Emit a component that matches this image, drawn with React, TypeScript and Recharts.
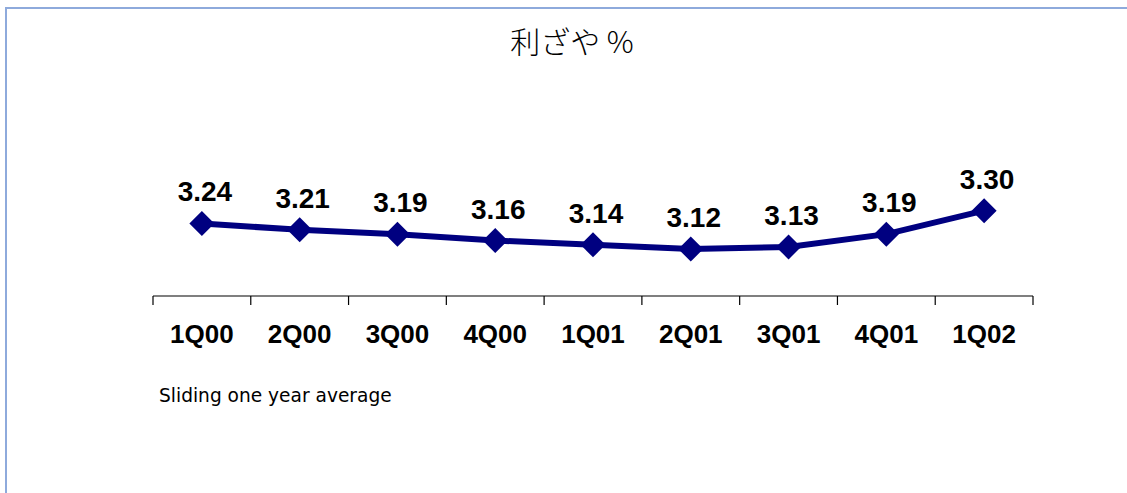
import { LineChart, Line, XAxis, YAxis } from "recharts";

const categories = ["1Q00", "2Q00", "3Q00", "4Q00", "1Q01", "2Q01", "3Q01", "4Q01", "1Q02"];
const margins = [3.24, 3.21, 3.19, 3.16, 3.14, 3.12, 3.13, 3.19, 3.3];
const boundaryTicks = [0, 1, 2, 3, 4, 5, 6, 7, 8, 9];

const NAVY = "#000080";
const BOLD_FONT = "'Liberation Sans', Arial, sans-serif";

const data = categories.map((name, i) => ({ name, pos: i + 0.5, value: margins[i] }));
const axisTicks = [...boundaryTicks, ...categories.map((_, i) => i + 0.5)].sort((a, b) => a - b);

function Diamond(props: any) {
  const { cx, cy } = props;
  if (cx == null || cy == null) return null;
  const r = 12.5;
  return (
    <path
      d={`M${cx},${cy - r}L${cx + r},${cy}L${cx},${cy + r}L${cx - r},${cy}Z`}
      fill={NAVY}
      stroke="none"
    />
  );
}

function AxisTick(props: any) {
  const { x, y, payload } = props;
  const v = payload.value as number;
  if (Number.isInteger(v)) {
    return <line x1={x} y1={y} x2={x} y2={y + 9} stroke="#000" strokeWidth={1.2} />;
  }
  const label = categories[Math.floor(v)];
  return (
    <text x={x} y={y + 47} textAnchor="middle" fontFamily={BOLD_FONT} fontWeight="bold" fontSize={26} fill="#000">
      {label}
    </text>
  );
}

function ValueLabel(props: any) {
  const { x, y, value } = props;
  return (
    <text x={x + 3} y={y - 22} textAnchor="middle" fontFamily={BOLD_FONT} fontWeight="bold" fontSize={28} fill="#000">
      {Number(value).toFixed(2)}
    </text>
  );
}

export default function App() {
  return (
    <div style={{ position: "fixed", left: 0, top: 0, width: 1127, height: 493, background: "#fff" }}>
      <div
        style={{
          position: "absolute",
          left: 5,
          top: 7,
          width: 1122,
          height: 486,
          borderTop: "2px solid #8eaadc",
          borderLeft: "2px solid #8eaadc",
          boxSizing: "border-box",
        }}
      />
      <div style={{ position: "absolute", left: 0, top: 0 }}>
        <LineChart
          width={1127}
          height={493}
          data={data}
          margin={{ top: 104, right: 94, left: 153, bottom: 137 }}
        >
          <XAxis
            dataKey="pos"
            type="number"
            domain={[0, 9]}
            ticks={axisTicks}
            interval={0}
            height={60}
            tickSize={0}
            tickMargin={0}
            tickLine={false}
            axisLine={{ stroke: "#000", strokeWidth: 1.2 }}
            tick={<AxisTick />}
          />
          <YAxis hide domain={[2.9, 3.8]} />
          <Line
            dataKey="value"
            stroke={NAVY}
            strokeWidth={6}
            dot={<Diamond />}
            activeDot={false}
            label={<ValueLabel />}
            isAnimationActive={false}
          />
        </LineChart>
      </div>
      <svg width={1127} height={493} style={{ position: "absolute", left: 0, top: 0, pointerEvents: "none" }}>
        <text x={572} y={53} textAnchor="middle" fontFamily="'Noto Sans CJK JP', sans-serif" fontWeight={300} fontSize={30} fill="#000">
          利ざや %
        </text>
        <text x={159} y={402} fontFamily="'DejaVu Sans', sans-serif" fontSize={18.6} fill="#000">
          Sliding one year average
        </text>
      </svg>
    </div>
  );
}
